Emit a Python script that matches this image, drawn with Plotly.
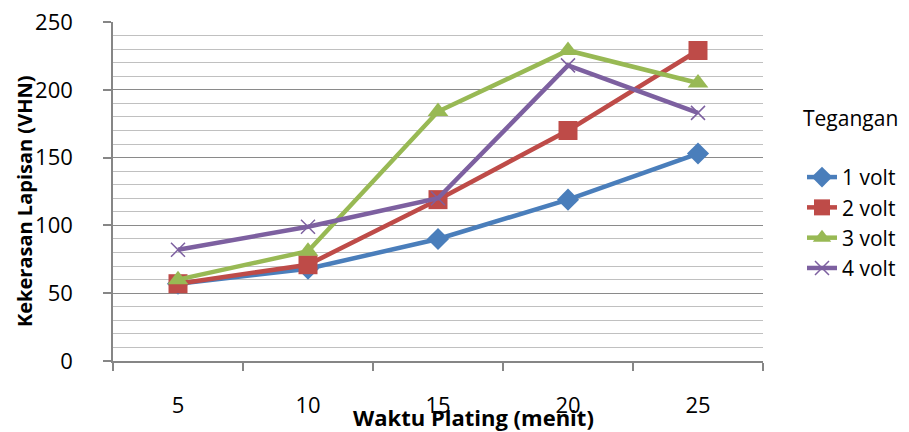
import plotly.graph_objects as go

waktu = ["5", "10", "15", "20", "25"]
volt1 = [57, 68, 90, 119, 153]
volt2 = [57, 71, 119, 170, 229]
volt3 = [60, 81, 184, 229, 205]
volt4 = [82, 99, 120, 218, 183]
y_ticks = [0, 50, 100, 150, 200, 250]

series = [
    ("1 volt", volt1, "#4A7EBB", dict(symbol="diamond", size=17)),
    ("2 volt", volt2, "#BE4B48", dict(symbol="square", size=19)),
    ("3 volt", volt3, "#98B954", dict(symbol="triangle-up", size=18)),
    ("4 volt", volt4, "#7D60A0", dict(symbol="x-thin-open", size=14, line=dict(width=1.5, color="#7D60A0"))),
]

fig = go.Figure()
for name, vals, col, mk in series:
    mk = dict(mk)
    mk["color"] = col
    fig.add_trace(go.Scatter(
        x=waktu, y=vals, name=name, mode="lines+markers",
        line=dict(color=col, width=4.5), marker=mk,
    ))

font_family = "Open Sans, Liberation Sans, sans-serif"

# page body has an 8px margin, so the figure is offset by (8, 8) in the window
fig.update_layout(
    width=901, height=424,
    margin=dict(l=105, r=146, t=14, b=71, autoexpand=False),
    paper_bgcolor="white", plot_bgcolor="white",
    font=dict(family=font_family, size=22, color="#000000"),
    showlegend=True,
    legend=dict(
        x=1.06, y=0.602, xanchor="left", yanchor="top",
        font=dict(size=21), tracegroupgap=0, itemwidth=30,
        bgcolor="rgba(0,0,0,0)",
    ),
    xaxis=dict(
        type="category", range=[-0.5, 4.5], automargin=False,
        showline=True, linecolor="#868686", linewidth=1.5,
        ticks="outside", tickson="boundaries", ticklen=8, tickcolor="#868686", tickwidth=1.5,
        showgrid=False, zeroline=False,
        ticklabelstandoff=24, ticklabeloverflow="allow",
        tickfont=dict(size=22),
    ),
    yaxis=dict(
        range=[0, 250], tickvals=y_ticks, automargin=False,
        showline=True, linecolor="#868686", linewidth=1.5,
        ticks="outside", ticklen=8, tickcolor="#868686", tickwidth=1.5,
        showgrid=True, gridcolor="#8a8a8a", gridwidth=1.3,
        zeroline=False,
        ticklabelstandoff=26, ticklabeloverflow="allow",
        tickfont=dict(size=22),
        minor=dict(dtick=10, showgrid=True, gridcolor="#c0c0c0", gridwidth=1.3, ticks=""),
    ),
    annotations=[
        dict(text="<b>Kekerasan Lapisan (VHN)</b>", xref="paper", yref="paper",
             x=-0.1354, y=0.472, xanchor="center", yanchor="middle", textangle=-90,
             showarrow=False, font=dict(size=20)),
        dict(text="<b>Waktu Plating (menit)</b>", xref="paper", yref="paper",
             x=0.555, y=-0.166, xanchor="center", yanchor="middle",
             showarrow=False, font=dict(size=22)),
        dict(text="Tegangan", xref="paper", yref="paper",
             x=1.135, y=0.717, xanchor="center", yanchor="middle",
             showarrow=False, font=dict(size=21)),
    ],
)

fig.write_html("out.html")
